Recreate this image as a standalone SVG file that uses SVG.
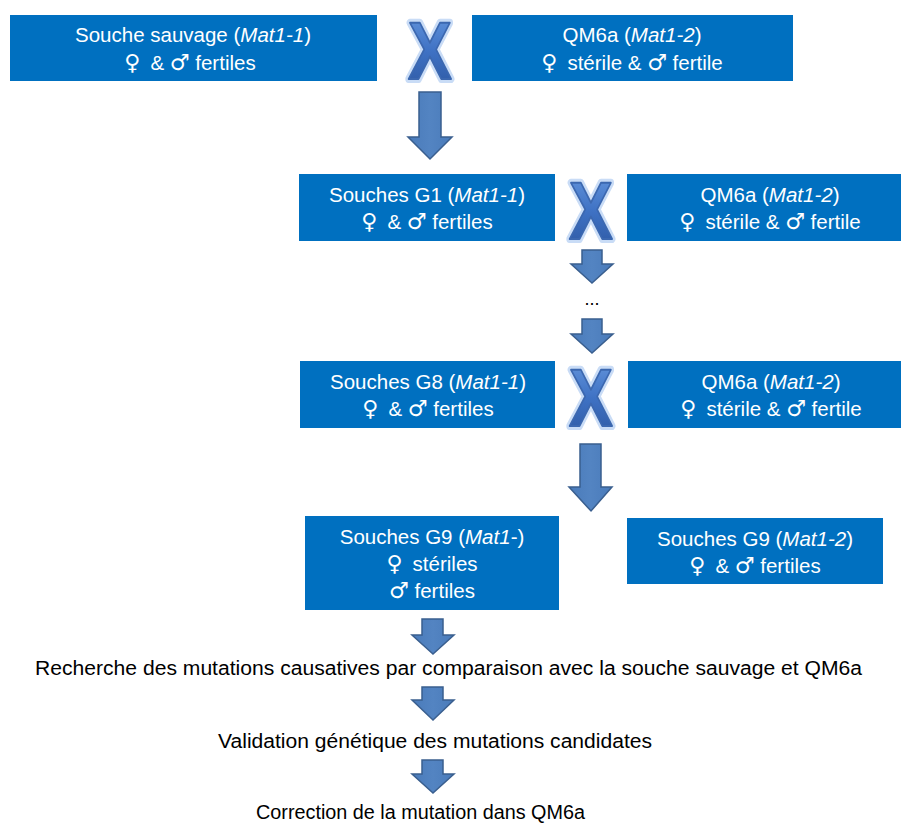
<svg xmlns="http://www.w3.org/2000/svg" width="901" height="823" viewBox="0 0 901 823">
<defs>
<linearGradient id="xg" x1="0" y1="0" x2="0" y2="1">
<stop offset="0" stop-color="#6A9BE0"/>
<stop offset="0.5" stop-color="#3F72C4"/>
<stop offset="1" stop-color="#2B559E"/>
</linearGradient>
<linearGradient id="ag" x1="0" y1="0" x2="1" y2="0">
<stop offset="0" stop-color="#4A7BBA"/>
<stop offset="0.5" stop-color="#5384C2"/>
<stop offset="1" stop-color="#4A7BBA"/>
</linearGradient>
</defs>
<style>
.box{fill:#0070C0;}
.bt{font-family:"Liberation Sans","DejaVu Sans",sans-serif;font-size:20.5px;fill:#FFFFFF;text-anchor:middle;}
.it{font-style:italic;}
.sy{font-family:"DejaVu Sans",sans-serif;font-size:22px;font-weight:normal;}
.tx{font-family:"Liberation Sans","DejaVu Sans",sans-serif;font-size:19.5px;fill:#000000;}
.arr{fill:url(#ag);stroke:#3A5F8F;stroke-width:1.5;stroke-linejoin:miter;}
.xglow{font-family:"Liberation Sans",sans-serif;font-weight:bold;font-size:82px;fill:#C9DCF6;stroke:#C9DCF6;stroke-width:8;stroke-linejoin:round;text-anchor:middle;}
.xbody{font-family:"Liberation Sans",sans-serif;font-weight:bold;font-size:82px;fill:url(#xg);stroke:#3C68B0;stroke-width:2;stroke-linejoin:round;text-anchor:middle;}
.dots{font-family:"Liberation Sans",sans-serif;font-size:18px;fill:#000000;text-anchor:middle;}
</style>

<g id="wild-type">
<rect class="box" x="10" y="15" width="367" height="66"/>
<text class="bt" x="193" y="42">Souche sauvage (<tspan class="it">Mat1-1</tspan>)</text>
<text class="bt" x="190" y="70"><tspan class="sy">♀</tspan><tspan dx="10">&amp; </tspan><tspan class="sy">♂</tspan> fertiles</text>
</g>

<g id="qm6a-1">
<rect class="box" x="472" y="15" width="321" height="66"/>
<text class="bt" x="632" y="42">QM6a (<tspan class="it">Mat1-2</tspan>)</text>
<text class="bt" x="632" y="70"><tspan class="sy">♀</tspan><tspan dx="10">stérile &amp; </tspan><tspan class="sy">♂</tspan> fertile</text>
</g>

<g id="g1">
<rect class="box" x="299" y="174" width="256" height="67"/>
<text class="bt" x="427" y="202">Souches G1 (<tspan class="it">Mat1-1</tspan>)</text>
<text class="bt" x="427" y="229"><tspan class="sy">♀</tspan><tspan dx="10">&amp; </tspan><tspan class="sy">♂</tspan> fertiles</text>
</g>

<g id="qm6a-2">
<rect class="box" x="627" y="174" width="274" height="67"/>
<text class="bt" x="770" y="202">QM6a (<tspan class="it">Mat1-2</tspan>)</text>
<text class="bt" x="770" y="229"><tspan class="sy">♀</tspan><tspan dx="10">stérile &amp; </tspan><tspan class="sy">♂</tspan> fertile</text>
</g>

<g id="g8">
<rect class="box" x="300" y="361" width="255" height="67"/>
<text class="bt" x="428" y="389">Souches G8 (<tspan class="it">Mat1-1</tspan>)</text>
<text class="bt" x="428" y="416"><tspan class="sy">♀</tspan><tspan dx="10">&amp; </tspan><tspan class="sy">♂</tspan> fertiles</text>
</g>

<g id="qm6a-3">
<rect class="box" x="628" y="361" width="273" height="67"/>
<text class="bt" x="771" y="389">QM6a (<tspan class="it">Mat1-2</tspan>)</text>
<text class="bt" x="771" y="416"><tspan class="sy">♀</tspan><tspan dx="10">stérile &amp; </tspan><tspan class="sy">♂</tspan> fertile</text>
</g>

<g id="g9-mat1-minus">
<rect class="box" x="305" y="516" width="254" height="94"/>
<text class="bt" x="432" y="544">Souches G9 (<tspan class="it">Mat1</tspan>-)</text>
<text class="bt" x="432" y="571"><tspan class="sy">♀</tspan><tspan dx="10">stériles</tspan></text>
<text class="bt" x="432" y="598"><tspan class="sy">♂</tspan> fertiles</text>
</g>

<g id="g9-mat1-2">
<rect class="box" x="627" y="518" width="256" height="66"/>
<text class="bt" x="755" y="546">Souches G9 (<tspan class="it">Mat1-2</tspan>)</text>
<text class="bt" x="755" y="573"><tspan class="sy">♀</tspan><tspan dx="10">&amp; </tspan><tspan class="sy">♂</tspan> fertiles</text>
</g>

<g id="step-recherche">
<text class="tx" x="35" y="675" textLength="827" lengthAdjust="spacingAndGlyphs">Recherche des mutations causatives par comparaison avec la souche sauvage et QM6a</text>
</g>
<g id="step-validation">
<text class="tx" x="218" y="748" textLength="434" lengthAdjust="spacingAndGlyphs">Validation génétique des mutations candidates</text>
</g>
<g id="step-correction">
<text class="tx" x="256" y="819" textLength="329" lengthAdjust="spacingAndGlyphs">Correction de la mutation dans QM6a</text>
</g>

<g id="crosses">
<g transform="translate(430,79) scale(0.8,1)">
<text class="xglow" x="0" y="0">X</text>
<text class="xbody" x="0" y="0">X</text>
</g>
<g transform="translate(591,239) scale(0.8,1)">
<text class="xglow" x="0" y="0">X</text>
<text class="xbody" x="0" y="0">X</text>
</g>
<g transform="translate(591,426) scale(0.8,1)">
<text class="xglow" x="0" y="0">X</text>
<text class="xbody" x="0" y="0">X</text>
</g>
</g>

<g id="connectors">
<polygon class="arr" points="419,92 441,92 441,137 452,137 430,159 408,137 419,137"/>
<polygon class="arr" points="582,250 602,250 602,264 613,264 592,283 571,264 582,264"/>
<text class="dots" x="592" y="305">...</text>
<polygon class="arr" points="582,319 602,319 602,334 613,334 592,353 571,334 582,334"/>
<polygon class="arr" points="580,444 601,444 601,487 612,487 591,511 569,487 580,487"/>
<polygon class="arr" points="422,619 443,619 443,635 454,635 433,654 412,635 422,635"/>
<polygon class="arr" points="422,687 443,687 443,700 454,700 433,720 412,700 422,700"/>
<polygon class="arr" points="422,760 443,760 443,774 454,774 433,793 412,774 422,774"/>
</g>
</svg>
